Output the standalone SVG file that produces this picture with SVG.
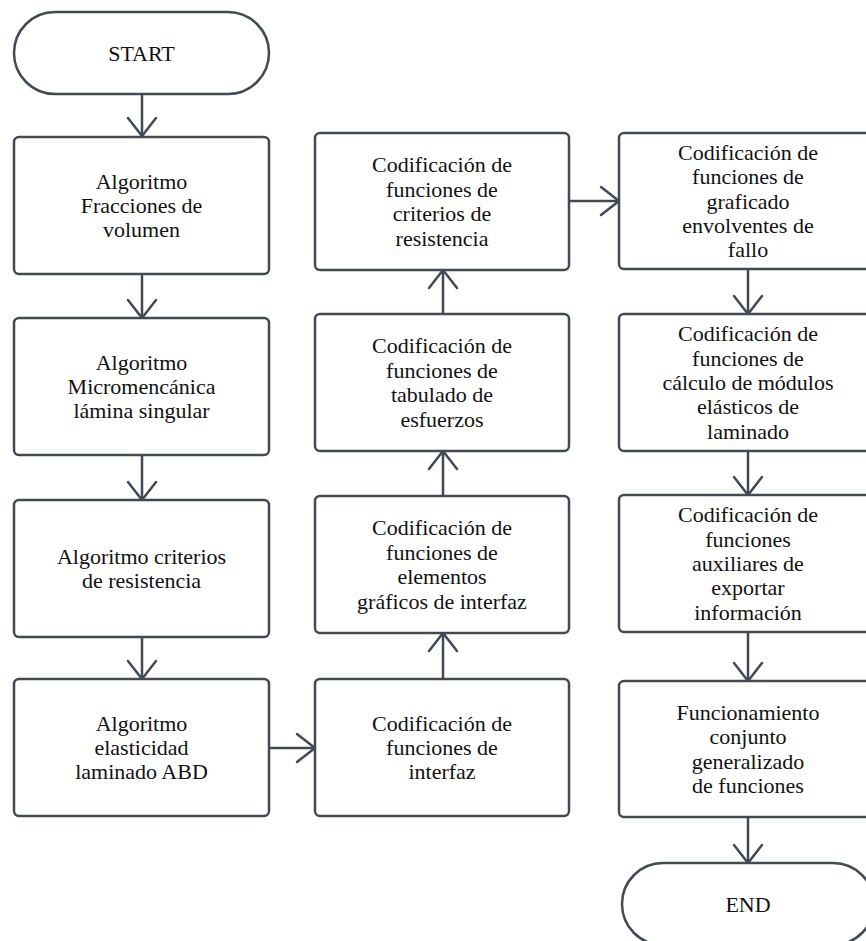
<svg xmlns="http://www.w3.org/2000/svg" width="866" height="941" viewBox="0 0 866 941">
  <style>
    .box { fill: #ffffff; stroke: #404954; stroke-width: 2.5; }
    .lbl { font-family: "Liberation Serif", "Times New Roman", serif; font-size: 22px; fill: #111111; text-anchor: middle; }
    .edge { fill: none; stroke: #404954; stroke-width: 2.5; stroke-linecap: round; stroke-linejoin: round; }
  </style>
  <defs>
    <marker id="vee" markerUnits="userSpaceOnUse" markerWidth="40" markerHeight="40" refX="0" refY="0" orient="auto" overflow="visible">
      <path d="M -18 -14 L 0 0 L -18 14" fill="none" stroke="#404954" stroke-width="2.5" stroke-linecap="round" stroke-linejoin="round"/>
    </marker>
  </defs>
  <rect width="866" height="941" fill="#ffffff"/>

  <!-- connectors -->
  <g id="connectors">
    <path class="edge" d="M 142 94 L 142 136" marker-end="url(#vee)"/>
    <path class="edge" d="M 142 274 L 142 318" marker-end="url(#vee)"/>
    <path class="edge" d="M 142 455 L 142 500" marker-end="url(#vee)"/>
    <path class="edge" d="M 142 637 L 142 679" marker-end="url(#vee)"/>
    <path class="edge" d="M 269 748 L 315 748" marker-end="url(#vee)"/>
    <path class="edge" d="M 443 679 L 443 633" marker-end="url(#vee)"/>
    <path class="edge" d="M 443 496 L 443 451" marker-end="url(#vee)"/>
    <path class="edge" d="M 443 314 L 443 270" marker-end="url(#vee)"/>
    <path class="edge" d="M 569 201 L 619 201" marker-end="url(#vee)"/>
    <path class="edge" d="M 748 269 L 748 314" marker-end="url(#vee)"/>
    <path class="edge" d="M 748 451 L 748 495" marker-end="url(#vee)"/>
    <path class="edge" d="M 748 632 L 748 681" marker-end="url(#vee)"/>
    <path class="edge" d="M 748 817 L 748 863" marker-end="url(#vee)"/>
  </g>

  <!-- terminals -->
  <g id="start">
    <rect class="box" x="14" y="12" width="255" height="82" rx="41" ry="41"/>
    <text class="lbl" x="141.5" y="61">START</text>
  </g>
  <g id="end">
    <rect class="box" x="622" y="863" width="252" height="82" rx="41" ry="41"/>
    <text class="lbl" x="748" y="912">END</text>
  </g>

  <!-- column 1 -->
  <g id="fracciones">
    <rect class="box" x="14" y="137" width="255" height="137" rx="5"/>
    <text class="lbl" x="141.5" y="188.6">Algoritmo</text>
    <text class="lbl" x="141.5" y="213">Fracciones de</text>
    <text class="lbl" x="141.5" y="237.4">volumen</text>
  </g>
  <g id="micromecanica">
    <rect class="box" x="14" y="318" width="255" height="137" rx="5"/>
    <text class="lbl" x="141.5" y="369.6">Algoritmo</text>
    <text class="lbl" x="141.5" y="394">Micromencánica</text>
    <text class="lbl" x="141.5" y="418.4">lámina singular</text>
  </g>
  <g id="criterios">
    <rect class="box" x="14" y="500" width="255" height="137" rx="5"/>
    <text class="lbl" x="141.5" y="563.8">Algoritmo criterios</text>
    <text class="lbl" x="141.5" y="588.2">de resistencia</text>
  </g>
  <g id="abd">
    <rect class="box" x="14" y="679" width="255" height="137" rx="5"/>
    <text class="lbl" x="141.5" y="730.6">Algoritmo</text>
    <text class="lbl" x="141.5" y="755">elasticidad</text>
    <text class="lbl" x="141.5" y="779.4">laminado ABD</text>
  </g>

  <!-- column 2 -->
  <g id="cod-criterios">
    <rect class="box" x="315" y="133" width="254" height="137" rx="5"/>
    <text class="lbl" x="442" y="172.4">Codificación de</text>
    <text class="lbl" x="442" y="196.8">funciones de</text>
    <text class="lbl" x="442" y="221.2">criterios de</text>
    <text class="lbl" x="442" y="245.6">resistencia</text>
  </g>
  <g id="cod-tabulado">
    <rect class="box" x="315" y="314" width="254" height="137" rx="5"/>
    <text class="lbl" x="442" y="353.4">Codificación de</text>
    <text class="lbl" x="442" y="377.8">funciones de</text>
    <text class="lbl" x="442" y="402.2">tabulado de</text>
    <text class="lbl" x="442" y="426.6">esfuerzos</text>
  </g>
  <g id="cod-graficos">
    <rect class="box" x="315" y="496" width="254" height="137" rx="5"/>
    <text class="lbl" x="442" y="535.4">Codificación de</text>
    <text class="lbl" x="442" y="559.8">funciones de</text>
    <text class="lbl" x="442" y="584.2">elementos</text>
    <text class="lbl" x="442" y="608.6">gráficos de interfaz</text>
  </g>
  <g id="cod-interfaz">
    <rect class="box" x="315" y="679" width="254" height="137" rx="5"/>
    <text class="lbl" x="442" y="730.6">Codificación de</text>
    <text class="lbl" x="442" y="755">funciones de</text>
    <text class="lbl" x="442" y="779.4">interfaz</text>
  </g>

  <!-- column 3 -->
  <g id="cod-graficado">
    <rect class="box" x="619" y="133" width="258" height="136" rx="5"/>
    <text class="lbl" x="748" y="159.7">Codificación de</text>
    <text class="lbl" x="748" y="184.1">funciones de</text>
    <text class="lbl" x="748" y="208.5">graficado</text>
    <text class="lbl" x="748" y="232.9">envolventes de</text>
    <text class="lbl" x="748" y="257.3">fallo</text>
  </g>
  <g id="cod-modulos">
    <rect class="box" x="619" y="314" width="258" height="137" rx="5"/>
    <text class="lbl" x="748" y="341.2">Codificación de</text>
    <text class="lbl" x="748" y="365.6">funciones de</text>
    <text class="lbl" x="748" y="390">cálculo de módulos</text>
    <text class="lbl" x="748" y="414.4">elásticos de</text>
    <text class="lbl" x="748" y="438.8">laminado</text>
  </g>
  <g id="cod-exportar">
    <rect class="box" x="619" y="495" width="258" height="137" rx="5"/>
    <text class="lbl" x="748" y="522.2">Codificación de</text>
    <text class="lbl" x="748" y="546.6">funciones</text>
    <text class="lbl" x="748" y="571">auxiliares de</text>
    <text class="lbl" x="748" y="595.4">exportar</text>
    <text class="lbl" x="748" y="619.8">información</text>
  </g>
  <g id="funcionamiento">
    <rect class="box" x="619" y="681" width="258" height="136" rx="5"/>
    <text class="lbl" x="748" y="719.9">Funcionamiento</text>
    <text class="lbl" x="748" y="744.3">conjunto</text>
    <text class="lbl" x="748" y="768.7">generalizado</text>
    <text class="lbl" x="748" y="793.1">de funciones</text>
  </g>
</svg>
